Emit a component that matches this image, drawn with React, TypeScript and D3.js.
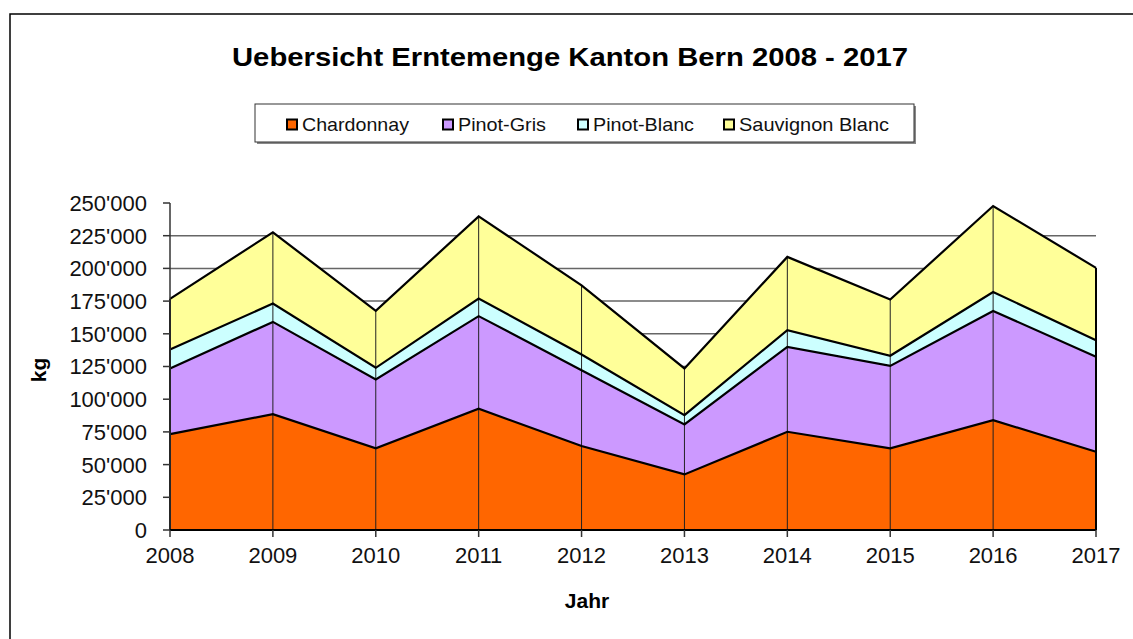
import * as d3 from 'd3'
import { useRef, useEffect } from 'react'

const years = [2008, 2009, 2010, 2011, 2012, 2013, 2014, 2015, 2016, 2017]
const chardonnay = [73300, 88600, 62400, 92700, 64200, 42500, 75100, 62400, 84000, 59800]
const pinotGris = [50200, 70500, 52700, 70800, 58000, 38200, 64900, 63100, 83500, 72600]
const pinotBlanc = [14500, 14000, 8900, 13500, 12000, 7100, 12800, 7700, 14500, 12700]
const sauvignonBlanc = [38700, 54500, 43500, 62800, 52900, 35700, 56000, 43000, 65700, 55300]
const seriesNames = ['Chardonnay', 'Pinot-Gris', 'Pinot-Blanc', 'Sauvignon Blanc']
const seriesColors = ['#ff6600', '#cc99ff', '#ccffff', '#ffff99']
const yTicks = [0, 25000, 50000, 75000, 100000, 125000, 150000, 175000, 200000, 225000, 250000]

export default function App() {
    const svgRef = useRef<SVGSVGElement>(null)
    useEffect(() => {
        const width = 1133
        const height = 639
        const margin = { top: 203, right: 37, bottom: 109, left: 170 }
        const innerWidth = width - margin.left - margin.right
        const innerHeight = height - margin.top - margin.bottom

        const svg = d3.select(svgRef.current)
        svg.selectAll('*').remove()
        svg.attr('width', width).attr('height', height)

        const font = 'Liberation Sans, Arial, sans-serif'

        // outer frame, runs off the right and bottom edge
        svg.append('rect')
            .attr('x', 10).attr('y', 14)
            .attr('width', 1200).attr('height', 700)
            .attr('fill', 'white').attr('stroke', 'black').attr('stroke-width', 1.5)

        svg.append('text')
            .text('Uebersicht Erntemenge Kanton Bern 2008 - 2017')
            .attr('x', 232).attr('y', 66)
            .attr('textLength', 676).attr('lengthAdjust', 'spacingAndGlyphs')
            .attr('font-family', font).attr('font-weight', 'bold').attr('font-size', 25)

        // legend
        const legend = svg.append('g')
        legend.append('rect')
            .attr('x', 257).attr('y', 106).attr('width', 659).attr('height', 38)
            .attr('fill', '#888')
        legend.append('rect')
            .attr('x', 255).attr('y', 104).attr('width', 659).attr('height', 38)
            .attr('fill', 'white').attr('stroke', '#333').attr('stroke-width', 1)
        const legendX = [287, 443, 578, 724]
        const legendW = [107, 88, 101, 150]
        seriesNames.forEach((name, i) => {
            legend.append('rect')
                .attr('x', legendX[i]).attr('y', 119.5).attr('width', 10).attr('height', 10)
                .attr('fill', seriesColors[i]).attr('stroke', 'black').attr('stroke-width', 2)
            legend.append('text')
                .text(name)
                .attr('x', legendX[i] + 15).attr('y', 131)
                .attr('textLength', legendW[i]).attr('lengthAdjust', 'spacingAndGlyphs')
                .attr('font-family', font).attr('font-size', 19).attr('fill', '#111')
        })

        const g = svg.append('g')
            .attr('transform', `translate(${margin.left}, ${margin.top})`)

        const xScale = d3.scaleLinear()
            .domain([years[0], years[years.length - 1]])
            .range([0, innerWidth])
        const yScale = d3.scaleLinear()
            .domain([0, 250000])
            .range([innerHeight, 0])

        // gridlines
        g.selectAll('.grid')
            .data(yTicks.filter(t => t > 0 && t < 250000))
            .join('line')
            .attr('x1', 0).attr('x2', innerWidth)
            .attr('y1', d => yScale(d)).attr('y2', d => yScale(d))
            .attr('stroke', '#666').attr('stroke-width', 1.5)

        const table = years.map((year, i) => ({
            year,
            'Chardonnay': chardonnay[i],
            'Pinot-Gris': pinotGris[i],
            'Pinot-Blanc': pinotBlanc[i],
            'Sauvignon Blanc': sauvignonBlanc[i],
        }))
        const stacked = d3.stack().keys(seriesNames)(table as any)

        const area = d3.area<any>()
            .x(d => xScale(d.data.year))
            .y0(d => yScale(d[0]))
            .y1(d => yScale(d[1]))
        const topLine = d3.line<any>()
            .x(d => xScale(d.data.year))
            .y(d => yScale(d[1]))

        stacked.forEach((s, i) => {
            g.append('path')
                .attr('d', area(s))
                .attr('fill', seriesColors[i])
        })

        // drop lines at every year
        const totals = stacked[stacked.length - 1]
        g.selectAll('.drop')
            .data(totals)
            .join('line')
            .attr('x1', d => xScale(d.data.year)).attr('x2', d => xScale(d.data.year))
            .attr('y1', innerHeight).attr('y2', d => yScale(d[1]))
            .attr('stroke', '#222').attr('stroke-width', 1)

        stacked.forEach(s => {
            g.append('path')
                .attr('d', topLine(s))
                .attr('fill', 'none')
                .attr('stroke', 'black').attr('stroke-width', 2.2)
        })
        // edges of the stack
        const last = totals[totals.length - 1]
        g.append('line')
            .attr('x1', 0).attr('x2', 0)
            .attr('y1', innerHeight).attr('y2', yScale(totals[0][1]))
            .attr('stroke', 'black').attr('stroke-width', 2)
        g.append('line')
            .attr('x1', innerWidth).attr('x2', innerWidth)
            .attr('y1', innerHeight).attr('y2', yScale(last[1]))
            .attr('stroke', 'black').attr('stroke-width', 2)

        // y axis
        g.append('line')
            .attr('x1', 0).attr('x2', 0).attr('y1', 0).attr('y2', innerHeight)
            .attr('stroke', '#333').attr('stroke-width', 1.5)
        g.selectAll('.ytick')
            .data(yTicks)
            .join('line')
            .attr('x1', -7).attr('x2', 0)
            .attr('y1', d => yScale(d)).attr('y2', d => yScale(d))
            .attr('stroke', '#333').attr('stroke-width', 1.5)
        const fmt = (v: number) => d3.format(',')(v).replace(/,/g, "'")
        g.selectAll('.ylabel')
            .data(yTicks)
            .join('text')
            .text(d => fmt(d))
            .attr('x', -23).attr('y', d => yScale(d))
            .attr('dy', '0.36em')
            .attr('text-anchor', 'end')
            .attr('font-family', font).attr('font-size', 22).attr('fill', '#111')

        // x axis
        g.append('line')
            .attr('x1', 0).attr('x2', innerWidth).attr('y1', innerHeight).attr('y2', innerHeight)
            .attr('stroke', 'black').attr('stroke-width', 2)
        g.selectAll('.xtick')
            .data(years)
            .join('line')
            .attr('x1', d => xScale(d)).attr('x2', d => xScale(d))
            .attr('y1', innerHeight).attr('y2', innerHeight + 7)
            .attr('stroke', '#333').attr('stroke-width', 1.5)
        g.selectAll('.xlabel')
            .data(years)
            .join('text')
            .text(d => d)
            .attr('x', d => xScale(d)).attr('y', innerHeight + 33)
            .attr('text-anchor', 'middle')
            .attr('font-family', font).attr('font-size', 22).attr('fill', '#111')

        svg.append('text')
            .text('Jahr')
            .attr('x', 587).attr('y', 608)
            .attr('text-anchor', 'middle')
            .attr('font-family', font).attr('font-weight', 'bold').attr('font-size', 21)

        svg.append('text')
            .text('kg')
            .attr('transform', 'translate(46, 370) rotate(-90)')
            .attr('text-anchor', 'middle')
            .attr('font-family', font).attr('font-weight', 'bold').attr('font-size', 21)
    }, [])
    return (
        <svg ref={svgRef} style={{ position: 'absolute', left: 0, top: 0 }}></svg>
    )
}
